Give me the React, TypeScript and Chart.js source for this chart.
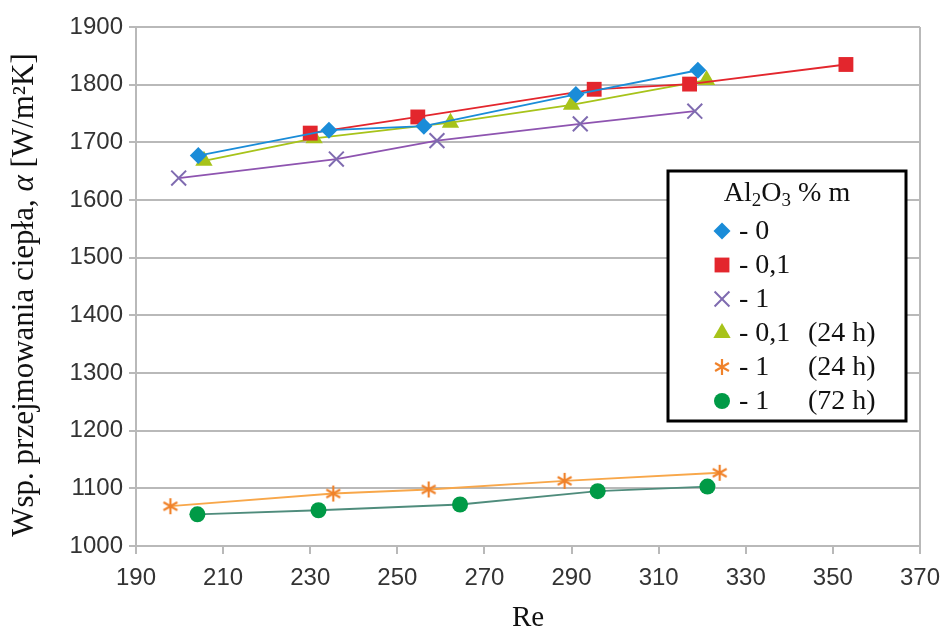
import React, { useEffect, useRef } from 'react';
import { Chart, registerables } from 'chart.js';

Chart.register(...registerables);

// ---- data (Re, alpha) ----
const re_0 = [204.3, 234.3, 256.1, 291.0, 319.0];
const alpha_0 = [1677, 1721, 1728, 1783, 1825];

const re_01 = [230.0, 254.7, 295.2, 317.1, 353.0];
const alpha_01 = [1716, 1744, 1792, 1801, 1835];

const re_1 = [199.8, 236.0, 259.1, 292.0, 318.3];
const alpha_1 = [1638, 1671, 1703, 1732, 1754];

const re_01_24 = [205.6, 230.9, 262.2, 290.0, 321.0];
const alpha_01_24 = [1668, 1707, 1734, 1765, 1808];

const re_1_24 = [197.9, 235.3, 257.2, 288.4, 324.0];
const alpha_1_24 = [1069, 1091, 1098, 1113, 1127];

const re_1_72 = [204.1, 231.9, 264.4, 296.0, 321.2];
const alpha_1_72 = [1055, 1062, 1072, 1095, 1103];

const legendTitle = 'Al2O3 % m';
const legendLabels = ['- 0', '- 0,1', '- 1', '- 0,1', '- 1', '- 1'];
const legendSuffix = ['', '', '', '(24 h)', '(24 h)', '(72 h)'];

const xMin = 190, xMax = 370, xStep = 20;
const yMin = 1000, yMax = 1900, yStep = 100;

const xTitle = 'Re';
const yTitleParts = ['Wsp. przejmowania ciepła, ', 'α', ' [W/m²K]'];

const pts = (xs: number[], ys: number[]) => xs.map((x, i) => ({ x, y: ys[i] }));

function makeAsterisk(color: string, size: number) {
  const c = document.createElement('canvas');
  c.width = size;
  c.height = size;
  const ctx = c.getContext('2d')!;
  ctx.strokeStyle = color;
  ctx.lineWidth = 2.2;
  const cx = size / 2;
  const r = size / 2 - 1;
  ctx.beginPath();
  for (let k = 0; k < 3; k++) {
    const a = Math.PI / 2 + (k * Math.PI) / 3;
    ctx.moveTo(cx + Math.cos(a) * r, cx - Math.sin(a) * r);
    ctx.lineTo(cx - Math.cos(a) * r, cx + Math.sin(a) * r);
  }
  ctx.stroke();
  return c;
}

const GRID = '#B9B9B9';
const TICK_FONT = { family: '"Liberation Sans"', size: 24 };

export default function App() {
  const ref = useRef<HTMLCanvasElement>(null);

  useEffect(() => {
    document.body.style.margin = '0';
    const star = makeAsterisk('#F0822A', 18);

    const series = [
      { data: pts(re_0, alpha_0), line: '#1A8CD8', color: '#1A8CD8', style: 'rectRot', r: 8.5 },
      { data: pts(re_01, alpha_01), line: '#E3262D', color: '#E3262D', style: 'rect', r: 10.5 },
      { data: pts(re_1, alpha_1), line: '#8E54B0', color: '#7F6BB0', style: 'crossRot', r: 10.5 },
      { data: pts(re_01_24, alpha_01_24), line: '#A7C31A', color: '#A7C31A', style: 'triangle', r: 10 },
      { data: pts(re_1_24, alpha_1_24), line: '#F8A74A', color: '#F0822A', style: star as any, r: 9 },
      { data: pts(re_1_72, alpha_1_72), line: '#4F8C7C', color: '#009A46', style: 'circle', r: 8 },
    ];

    const yTitlePlugin = {
      id: 'yTitleMixed',
      afterDraw(chart: any) {
        const ctx = chart.ctx as CanvasRenderingContext2D;
        ctx.save();
        ctx.translate(25, 295);
        ctx.rotate(-Math.PI / 2);
        ctx.fillStyle = '#111';
        ctx.textBaseline = 'middle';
        const fonts = ['31px "Liberation Serif"', 'italic 31px "Liberation Serif"', '31px "Liberation Serif"'];
        let total = 0;
        const widths = yTitleParts.map((t, i) => {
          ctx.font = fonts[i];
          const w = ctx.measureText(t).width;
          total += w;
          return w;
        });
        let x = -total / 2;
        yTitleParts.forEach((t, i) => {
          ctx.font = fonts[i];
          ctx.textAlign = 'left';
          ctx.fillText(t, x, 0);
          x += widths[i];
        });
        ctx.restore();
      },
    };

    const drawMarker = (ctx: CanvasRenderingContext2D, s: any, x: number, y: number) => {
      ctx.save();
      ctx.fillStyle = s.color;
      ctx.strokeStyle = s.color;
      ctx.lineWidth = 2;
      const r = s.r;
      ctx.beginPath();
      if (s.style === 'rectRot') {
        ctx.moveTo(x - r, y); ctx.lineTo(x, y - r); ctx.lineTo(x + r, y); ctx.lineTo(x, y + r); ctx.closePath(); ctx.fill();
      } else if (s.style === 'rect') {
        const h = r * Math.SQRT1_2;
        ctx.rect(x - h, y - h, 2 * h, 2 * h); ctx.fill();
      } else if (s.style === 'crossRot') {
        const h = r * Math.SQRT1_2;
        ctx.moveTo(x - h, y - h); ctx.lineTo(x + h, y + h); ctx.moveTo(x + h, y - h); ctx.lineTo(x - h, y + h); ctx.stroke();
      } else if (s.style === 'triangle') {
        ctx.moveTo(x, y - r); ctx.lineTo(x + r * Math.sin(Math.PI / 3), y + r / 2); ctx.lineTo(x - r * Math.sin(Math.PI / 3), y + r / 2); ctx.closePath(); ctx.fill();
      } else if (s.style === 'circle') {
        ctx.arc(x, y, r, 0, Math.PI * 2); ctx.fill();
      } else {
        const img = s.style as HTMLCanvasElement;
        ctx.drawImage(img, x - img.width / 2, y - img.height / 2);
      }
      ctx.restore();
    };

    const legendPlugin = {
      id: 'boxLegend',
      afterDraw(chart: any) {
        const ctx = chart.ctx as CanvasRenderingContext2D;
        const bx = 668, by = 171, bw = 238, bh = 250;
        ctx.save();
        ctx.fillStyle = '#fff';
        ctx.fillRect(bx, by, bw, bh);
        ctx.strokeStyle = '#000';
        ctx.lineWidth = 3;
        ctx.strokeRect(bx, by, bw, bh);
        // title with subscripts
        ctx.fillStyle = '#111';
        ctx.textBaseline = 'alphabetic';
        ctx.textAlign = 'left';
        const big = '28px "Liberation Serif"';
        const small = '19px "Liberation Serif"';
        const parts: [string, string, number][] = [
          [legendTitle.slice(0, 2), big, 0],
          [legendTitle.slice(2, 3), small, 5],
          [legendTitle.slice(3, 4), big, 0],
          [legendTitle.slice(4, 5), small, 5],
          [legendTitle.slice(5), big, 0],
        ];
        let tw = 0;
        parts.forEach(([t, f]) => { ctx.font = f; tw += ctx.measureText(t).width; });
        let tx = bx + bw / 2 - tw / 2;
        const ty = 201;
        parts.forEach(([t, f, dy]) => {
          ctx.font = f;
          ctx.fillText(t, tx, ty + dy);
          tx += ctx.measureText(t).width;
        });
        // rows
        ctx.font = '28px "Liberation Serif"';
        ctx.textBaseline = 'middle';
        series.forEach((s, i) => {
          const y = 231 + i * 34;
          drawMarker(ctx, s, 722, y);
          ctx.fillStyle = '#111';
          ctx.fillText(legendLabels[i], 739, y + 1);
          if (legendSuffix[i]) ctx.fillText(legendSuffix[i], 808, y + 1);
        });
        ctx.restore();
      },
    };

    const chart = new Chart(ref.current!, {
      type: 'scatter',
      data: {
        datasets: series.map((s) => ({
          data: s.data,
          showLine: true,
          borderColor: s.line,
          borderWidth: 1.8,
          backgroundColor: s.color,
          pointBackgroundColor: s.color,
          pointBorderColor: s.color,
          pointBorderWidth: s.style === 'crossRot' ? 2 : 0,
          pointStyle: s.style as any,
          pointRadius: s.r,
          pointHoverRadius: s.r,
        })),
      },
      options: {
        responsive: false,
        animation: false,
        layout: { padding: { left: 0, top: 27, right: 27, bottom: 0 } },
        plugins: { legend: { display: false }, tooltip: { enabled: false } },
        scales: {
          x: {
            type: 'linear',
            min: xMin,
            max: xMax,
            ticks: { stepSize: xStep, color: '#333', font: TICK_FONT, padding: 10, maxRotation: 0, callback: (v: any) => String(v) },
            grid: {
              color: (c: any) => (c.tick && c.tick.value === xMax ? GRID : 'rgba(0,0,0,0)'),
              tickColor: GRID,
              lineWidth: 2,
              tickLength: 8,
            },
            border: { display: true, color: GRID, width: 2 },
            title: { display: true, text: xTitle, color: '#111', font: { family: '"Liberation Serif"', size: 29, lineHeight: 1 }, padding: { top: 0, bottom: 1 } },
            afterFit: (s: any) => { s.height = 88; },
          },
          y: {
            type: 'linear',
            min: yMin,
            max: yMax,
            ticks: { stepSize: yStep, color: '#333', font: TICK_FONT, padding: 6, callback: (v: any) => String(v) },
            grid: { color: GRID, tickColor: GRID, lineWidth: 2, tickLength: 7 },
            border: { display: true, color: GRID, width: 2 },
            afterFit: (s: any) => { s.width = 136; },
          },
        },
      },
      plugins: [yTitlePlugin, legendPlugin],
    });
    return () => chart.destroy();
  }, []);

  return (
    <div style={{ width: 950, height: 634, background: '#fff' }}>
      <canvas ref={ref} width={950} height={634} />
    </div>
  );
}
